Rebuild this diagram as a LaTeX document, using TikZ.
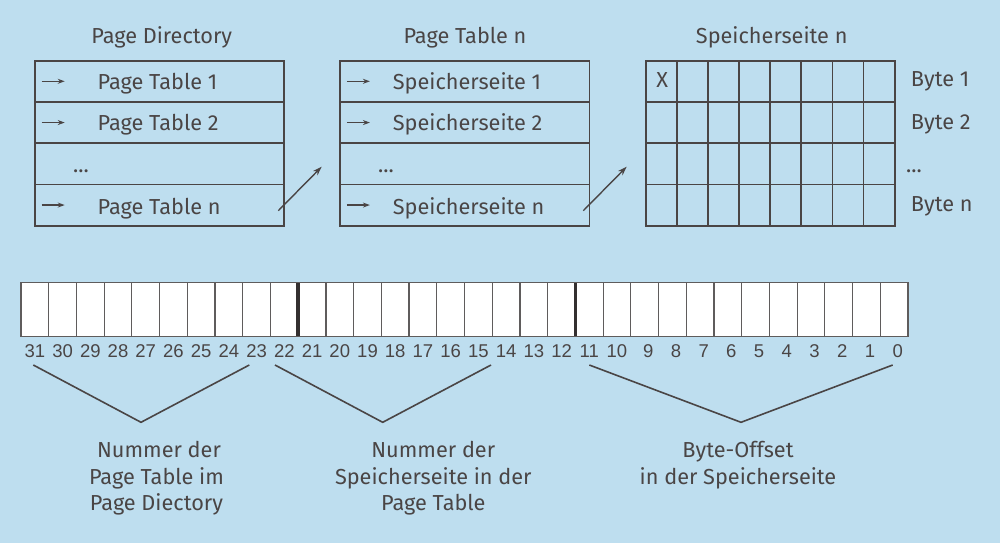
\documentclass[tikz,border=0pt]{standalone}
\usepackage{fontspec}
\setmainfont{Fira Sans}
\newfontfamily\numfont{Liberation Sans}
\usetikzlibrary{arrows.meta}
\definecolor{bg}{RGB}{190,222,239}
\definecolor{ink}{RGB}{74,69,69}
\definecolor{bitline}{RGB}{95,92,92}
\begin{document}
\begin{tikzpicture}[x=1pt,y=-1pt,
  font=\fontsize{21.7}{26}\selectfont, text=ink,
  row/.style={draw=ink, line width=1.8pt, minimum width=249.6pt, minimum height=41.25pt, inner sep=0pt, outer sep=0pt},
  gcell/.style={draw=ink, line width=1.8pt, minimum width=31.125pt, minimum height=41.25pt, inner sep=0pt, outer sep=0pt},
  bit/.style={draw=bitline, line width=1.2pt, minimum width=27.72pt, minimum height=54.4pt, inner sep=0pt, outer sep=0pt},
  txt/.style={anchor=base west, inner sep=0pt},
  ctxt/.style={anchor=base, inner sep=0pt},
  num/.style={anchor=base, inner sep=0pt, font=\numfont\fontsize{18.5}{20}\selectfont},
  sarrow/.style={draw=ink, line width=1.3pt, -{Stealth[length=7pt,width=5pt]}},
  barrow/.style={draw=ink, line width=1.4pt, -{Stealth[length=9pt,width=6pt]}},
  brace/.style={draw=ink, line width=1.6pt}
]
\useasboundingbox (0,0) rectangle (1000,543);
\fill[bg] (0,0) rectangle (1000,543);

% titles
\node[ctxt] (pdtitle) at (161.7,44) {Page Directory};
\node[ctxt] (pttitle) at (465,44) {Page Table n};
\node[ctxt] (sstitle) at (771.7,44) {Speicherseite n};

% Page Directory rows
\node[row] (pd1) at (159.5,81.3) {};
\node[row] (pd2) at (159.5,122.55) {};
\node[row] (pd3) at (159.5,163.8) {};
\node[row] (pd4) at (159.5,205.05) {};
\node[txt] (pd1t) at (97.5,89.3) {Page Table 1};
\node[txt] (pd2t) at (97.5,130.8) {Page Table 2};
\node[txt] (pd3t) at (73,172) {...};
\node[txt] (pd4t) at (97.5,214) {Page Table n};
\foreach \r in {1,2,4} {\draw[sarrow] ([xshift=7pt]pd\r.west) -- ([xshift=30pt]pd\r.west);}

% Page Table rows
\node[row] (pt1) at (464.7,81.3) {};
\node[row] (pt2) at (464.7,122.55) {};
\node[row] (pt3) at (464.7,163.8) {};
\node[row] (pt4) at (464.7,205.05) {};
\node[txt] (pt1t) at (392.7,89.3) {Speicherseite 1};
\node[txt] (pt2t) at (392.7,130.8) {Speicherseite 2};
\node[txt] (pt3t) at (378,172) {...};
\node[txt] (pt4t) at (392.7,214) {Speicherseite n};
\foreach \r in {1,2,4} {\draw[sarrow] ([xshift=7pt]pt\r.west) -- ([xshift=30pt]pt\r.west);}

% grid
\foreach \r in {1,...,4} {
  \foreach \c in {1,...,8} {
    \node[gcell] (g\r\c) at ({645.7+31.125*(\c-0.5)},{60.7+41.25*(\r-0.5)}) {};
  }
}
\node[ctxt] (xmark) at (662.3,87.5) {X};
\node[txt] (b1t) at (910.7,86.7) {Byte 1};
\node[txt] (b2t) at (910.7,129.3) {Byte 2};
\node[txt] (b3t) at (906,172.7) {...};
\node[txt] (b4t) at (910.7,211) {Byte n};

% connecting arrows
\coordinate (a1s) at (278.3,210.7);
\coordinate (a1e) at (321.7,166.7);
\coordinate (a2s) at (583.3,210.7);
\coordinate (a2e) at (626.7,166.7);
\draw[barrow] (a1s) -- (a1e);
\draw[barrow] (a2s) -- (a2e);

% bit register
\fill[white] (21,282.3) rectangle (908,336.7);
\foreach \k in {0,...,31} {
  \pgfmathtruncatemacro{\n}{31-\k}
  \node[bit] (bit\k) at ({21+27.72*(\k+0.5)},309.5) {};
  \ifnum\n<10
    \node[num] (lab\k) at ({21+27.72*(\k+0.5)+3.5},357.3) {\n};
  \else
    \node[num] (lab\k) at ({21+27.72*(\k+0.5)},357.3) {\n};
  \fi
}
\draw[draw=ink!70!black, line width=3.5pt] (bit9.north east) -- (bit9.south east);
\draw[draw=ink!70!black, line width=3.5pt] (bit19.north east) -- (bit19.south east);
\draw[draw=bitline, line width=1.4pt] (bit0.north west) rectangle (bit31.south east);

% brackets
\coordinate (br1a) at (33.3,365);
\coordinate (br1m) at (141,422.3);
\coordinate (br1b) at (249.3,365);
\coordinate (br2a) at (275,365);
\coordinate (br2m) at (382.7,422.3);
\coordinate (br2b) at (491,365);
\coordinate (br3a) at (589.3,365);
\coordinate (br3m) at (741,422.3);
\coordinate (br3b) at (892.7,365);
\draw[brace] (br1a) -- (br1m) -- (br1b);
\draw[brace] (br2a) -- (br2m) -- (br2b);
\draw[brace] (br3a) -- (br3m) -- (br3b);

% descriptions
\node[ctxt] (d1a) at (159,457.5) {Nummer der};
\node[ctxt] (d1b) at (156.5,484) {Page Table im};
\node[ctxt] (d1c) at (156.5,510.5) {Page Diectory};
\node[ctxt] (d2a) at (433.3,457.5) {Nummer der};
\node[ctxt] (d2b) at (433.3,484) {Speicherseite in der};
\node[ctxt] (d2c) at (433.3,510.5) {Page Table};
\node[ctxt] (d3a) at (738,457.5) {Byte-Offset};
\node[ctxt] (d3b) at (738,484) {in der Speicherseite};
\end{tikzpicture}
\end{document}
